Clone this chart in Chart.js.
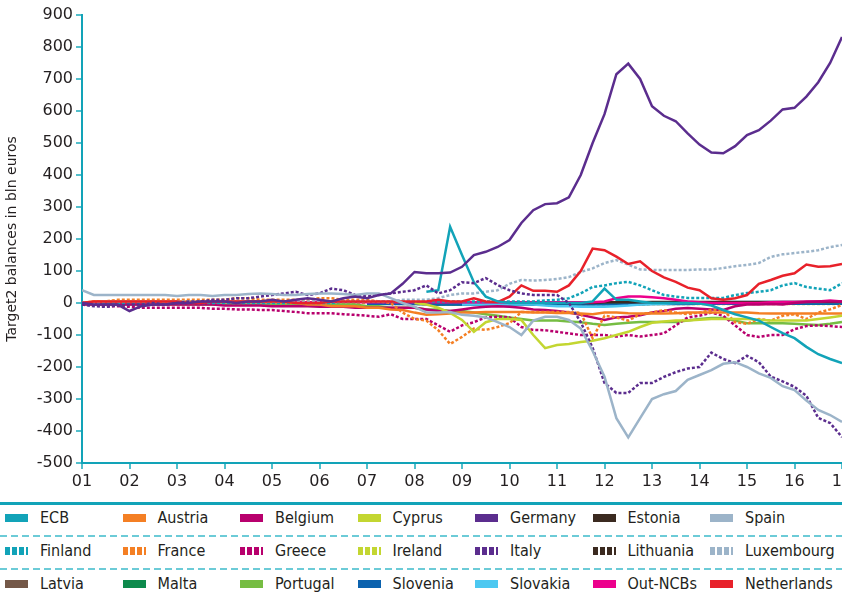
<!DOCTYPE html>
<html lang="en">
<head>
<meta charset="UTF-8">
<title>Target2 balances</title>
<script src="https://cdn.jsdelivr.net/npm/chart.js"></script>
<style>
    body {
        margin: 0;
        background: #ffffff;
        width: 842px;
        height: 598px;
        overflow: hidden;
        position: relative;
    }

    #wrap {
        position: absolute;
        left: 0;
        top: 0;
        width: 852px;
        height: 500px;
    }

    #legend {
        position: absolute;
        left: 0;
        top: 500px;
        width: 842px;
        height: 98px;
        font-family: "DejaVu Sans Condensed", "DejaVu Sans", sans-serif;
        font-size: 16px;
        color: #231f20;
    }

    .solid-rule {
        position: absolute;
        left: 0;
        width: 842px;
        height: 3px;
        background: #12a3b8;
    }

    .dash-rule {
        position: absolute;
        left: 0;
        width: 842px;
        height: 2px;
        background: repeating-linear-gradient(90deg, #6ccbd7 0 7px, transparent 7px 11px);
    }

    .item {
        position: absolute;
        height: 20px;
        line-height: 20px;
        white-space: nowrap;
    }

    .swatch {
        position: absolute;
        left: 0;
        top: 6px;
        width: 23px;
        height: 8px;
    }

    .name {
        position: absolute;
        left: 35px;
        top: 0;
    }
</style>
</head>
<body>
<div id="wrap"><canvas id="chart" width="852" height="500"></canvas></div>
<div id="legend"></div>
<script>
    const yearTicks = ['01', '02', '03', '04', '05', '06', '07', '08', '09', '10', '11', '12', '13', '14', '15', '16', '17'];
    const firstYear = 2001;
    const lastYear = 2017;

    // quarterly values, bln euros, 2001Q1 .. 2017Q1
    const germany = [0, -5, -5, -5, -25, -10, -5, -5, 0, 0, 5, 5, 5, 0, 5, 5, 10, 5, 10, 15, 10, 5, 15, 20, 15, 25, 30, 60,
        97, 93, 93, 95, 113, 150, 160, 175, 197, 250, 290, 309, 312, 330, 400, 500, 590, 715, 748, 700,
        615, 585, 568, 530, 495, 470, 468, 490, 525, 540, 570, 605, 610, 645, 690, 750, 831];
    const spain = [40, 25, 25, 25, 25, 25, 25, 25, 22, 25, 25, 22, 25, 25, 28, 30, 28, 25, 25, 28, 30, 30, 28, 25, 30, 30, 15, 0,
        -12, -30, -30, -28, -37, -40, -45, -60, -75, -100, -55, -43, -43, -53, -80, -150, -230, -360, -420, -360,
        -300, -285, -275, -240, -225, -210, -190, -185, -200, -220, -234, -260, -272, -305, -334, -350, -372];
    const italy = [-5, -10, -12, -8, -5, -5, 0, -5, 0, 5, 5, 10, 10, 15, 15, 20, 25, 30, 35, 25, 30, 45, 40, 25, 20, 25, 30, 35,
        40, 55, 30, 40, 65, 62, 78, 56, 40, 30, 25, 25, 25, 0, -60, -140, -250, -281, -281, -250,
        -250, -231, -216, -205, -200, -155, -175, -188, -165, -185, -230, -245, -262, -290, -359, -375, -419];
    const netherlands = [0, 5, 5, 5, 5, 5, 5, 5, 5, 0, 0, 5, 5, 5, 5, 5, 5, 5, 0, 0, 0, 5, 5, 5, 5, 5, 5, 5,
        5, 5, 10, 5, 5, 15, 5, 3, 20, 55, 38, 38, 35, 55, 100, 170, 165, 145, 122, 130,
        100, 80, 66, 48, 40, 15, 10, 15, 25, 60, 72, 85, 93, 120, 113, 115, 122];
    const luxembourg = [0, 0, 5, 5, 5, 5, 5, 5, 5, 5, 5, 5, 5, 5, 5, 5, 5, 5, 5, 5, 5, 5, 5, 5, 5, 5, 5, 10,
        10, 10, 15, 25, 30, 30, 35, 40, 60, 72, 70, 72, 75, 81, 97, 108, 125, 134, 120, 105,
        103, 103, 103, 103, 105, 105, 109, 115, 119, 125, 144, 152, 156, 160, 165, 175, 181];
    const finland = [0, 0, 0, 0, 0, 0, 0, 0, 0, 0, 0, 0, 0, 0, 0, 0, 0, 0, 0, 0, 0, 0, 5, 5, 5, 5, 5, 5,
        5, 5, 5, 5, 5, 5, 5, 5, 5, 5, 5, 8, 10, 15, 30, 50, 55, 62, 66, 55,
        40, 25, 20, 16, 16, 16, 16, 25, 31, 35, 40, 55, 62, 50, 45, 40, 62];
    const greece = [-5, -5, -10, -10, -12, -15, -15, -15, -15, -15, -15, -18, -18, -20, -20, -22, -22, -25, -28, -32, -32, -32, -35, -37, -40, -43, -35, -50,
        -50, -50, -70, -90, -70, -60, -45, -43, -45, -75, -84, -85, -90, -95, -100, -100, -100, -105, -100, -105,
        -100, -95, -70, -45, -40, -30, -40, -70, -100, -106, -100, -100, -82, -72, -70, -72, -75];
    const belgium = [-5, -5, -5, -5, -5, -5, -5, -5, -5, -5, -5, -5, -8, -8, -8, -8, -10, -10, -10, -10, -12, -12, -12, -15, -15, -15, -15, -15,
        -15, -20, -25, -25, -20, -15, -12, -10, -12, -15, -20, -22, -25, -30, -37, -45, -53, -45, -43, -38,
        -30, -25, -18, -16, -18, -20, -22, -10, -5, -5, -3, -5, 0, 3, 5, 5, 5];
    const france = [0, 5, 5, 10, 10, 10, 10, 10, 10, 10, 10, 10, 10, 15, 15, 10, 10, 10, 10, 10, 15, 15, 10, 10, 10, 5, 0, -30,
        -50, -55, -85, -128, -106, -80, -84, -75, -63, -28, -28, -28, -28, -28, -31, -110, -40, -45, -55, -35,
        -30, -22, -30, -35, -30, -22, -22, -60, -65, -50, -55, -40, -35, -50, -30, -20, -6];
    const austria = [0, 5, 5, 5, 5, 5, 5, 5, 5, 5, 5, 5, 5, 5, 5, 5, 5, 0, 0, -5, -5, -10, -10, -10, -15, -15, -20, -22,
        -30, -37, -35, -33, -30, -30, -28, -28, -28, -28, -30, -30, -31, -31, -33, -35, -30, -30, -32, -33,
        -33, -33, -32, -30, -30, -30, -30, -30, -30, -32, -33, -33, -33, -33, -33, -33, -33];
    const ireland = [0, 0, 0, 0, 0, 0, 0, 0, 0, 0, 0, 0, 0, 0, 0, 0, 0, 0, 0, 0, 0, 0, 0, 0, 0, 0, -2, -3,
        -3, -3, -5, -5, -5, -5, -5, -5, -5, -5, -5, -5, -5, -5, -5, -5, -5, -5, -5, -5,
        -3, -3, -3, -3, -3, -3, -3, -3, -3, -3, -3, -3, -3, -3, -3, -3, -3];
    const portugal = [-5, -5, -5, -5, -5, -5, -5, -5, -5, -5, -5, -5, -5, -5, -5, -5, -5, -5, -5, -5, -5, -5, -5, -5, -10, -10, -15, -15,
        -15, -20, -20, -25, -25, -30, -35, -40, -45, -50, -55, -55, -55, -58, -60, -65, -69, -65, -62, -59,
        -59, -59, -59, -55, -50, -47, -47, -55, -63, -63, -63, -63, -65, -67, -69, -65, -59];
    const outNcbs = [2, 2, 2, 2, 2, 2, 2, 2, 2, 2, 2, 2, 2, 2, 2, 2, 2, 2, 2, 2, 2, 2, 2, 2, 2, 2, 2, 2,
        2, 2, 2, 2, 2, 2, 2, 2, 2, 2, 2, 2, 2, 2, 2, 2, 5, 15, 20, 20,
        18, 15, 10, 5, 2, 0, 0, 0, 0, 0, 2, 3, 3, 5, 5, 8, 5];

    // series that start later (first value is at the given year)
    const ecbStart = 2008.25;
    const ecb = [35, 40, 238, 150, 65, 20, 5, 0, 0, 0, 0, 0, 0, 0, 5, 45, 10, 10, 5, 0, 0, 0, 0, -2,
        -8, -22, -35, -45, -55, -75, -94, -110, -137, -160, -175, -188];
    const cyprusStart = 2008;
    const cyprus = [0, -5, -15, -31, -53, -90, -60, -50, -50, -53, -100, -141, -131, -128, -122, -118,
        -110, -100, -90, -75, -62, -58, -55, -55, -52, -50, -50, -50, -50, -52, -55, -55, -55, -55, -50, -45, -40];
    const estoniaStart = 2011;
    const estonia = [0, 0, 0, 0, 2, 2, 2, 2, 3, 3, 3, 3, 3, 3, 3, 3, 3, 3, 3, 3, 3, 3, 3, 3, 3];
    const latviaStart = 2014;
    const latvia = [0, 0, -2, -2, -2, -2, -2, -2, -2, -2, -2, -2, -2];
    const lithuaniaStart = 2015;
    const lithuania = [0, 0, 2, 2, 2, 2, 2, 2, 2];
    const maltaStart = 2008;
    const malta = [-2, -3, -5, -5, -5, -5, -5, -5, -5, -5, -5, -5, -3, -3, -3, -3, 0, 0, 0, 0,
        0, 0, 0, 0, 0, 0, 0, 0, 0, 0, 0, 0, 0, 0, 0, 0, 0];
    const sloveniaStart = 2007;
    const slovenia = [-2, -2, -3, -3, -3, -4, -5, -5, -5, -5, -5, -5, -5, -5, -5, -5, -5, -5, -5, -5,
        -5, -5, -4, -4, -3, -3, -3, -3, -2, -2, -2, -2, -2, -2, -2, -2, -2, -2, -2, -2, -2];
    const slovakiaStart = 2009;
    const slovakia = [-5, -5, -5, -5, -5, -5, -5, -8, -10, -10, -12, -12, -12, -10, -8, -5,
        -3, -2, 0, 0, 2, 2, 3, 3, 3, 3, 3, 3, 3, 3, 3, 3, 3];

    const quarters = [];
    for (let i = 0; i <= (lastYear - firstYear) * 4; i++) quarters.push(firstYear + i / 4);

    function startAt(year, values) {
        const lead = Math.round((year - firstYear) * 4);
        return Array(lead).fill(null).concat(values);
    }

    const lines = {
        'Germany': { values: germany, color: '#5b2d8e', dotted: false },
        'Spain': { values: spain, color: '#9cb4c9', dotted: false },
        'Italy': { values: italy, color: '#5b2d8e', dotted: true },
        'ECB': { values: startAt(ecbStart, ecb), color: '#12a3b8', dotted: false },
        'Netherlands': { values: netherlands, color: '#e8212a', dotted: false },
        'Luxembourg': { values: luxembourg, color: '#9cb4c9', dotted: true },
        'Finland': { values: finland, color: '#12a3b8', dotted: true },
        'Cyprus': { values: startAt(cyprusStart, cyprus), color: '#c3d631', dotted: false },
        'France': { values: france, color: '#f47f24', dotted: true },
        'Austria': { values: austria, color: '#f47f24', dotted: false },
        'Greece': { values: greece, color: '#b8006d', dotted: true },
        'Belgium': { values: belgium, color: '#b8006d', dotted: false },
        'Portugal': { values: portugal, color: '#76bd43', dotted: false },
        'Out-NCBs': { values: outNcbs, color: '#ec008c', dotted: false },
        'Estonia': { values: startAt(estoniaStart, estonia), color: '#3b2a20', dotted: false },
        'Slovakia': { values: startAt(slovakiaStart, slovakia), color: '#4cc8f1', dotted: false },
        'Slovenia': { values: startAt(sloveniaStart, slovenia), color: '#0b62ae', dotted: false },
        'Malta': { values: startAt(maltaStart, malta), color: '#0d8a4c', dotted: false },
        'Latvia': { values: startAt(latviaStart, latvia), color: '#745848', dotted: false },
        'Lithuania': { values: startAt(lithuaniaStart, lithuania), color: '#3b2a20', dotted: true },
        'Ireland': { values: ireland, color: '#c3d631', dotted: true }
    };

    const legendRows = [
        ['ECB', 'Austria', 'Belgium', 'Cyprus', 'Germany', 'Estonia', 'Spain'],
        ['Finland', 'France', 'Greece', 'Ireland', 'Italy', 'Lithuania', 'Luxembourg'],
        ['Latvia', 'Malta', 'Portugal', 'Slovenia', 'Slovakia', 'Out-NCBs', 'Netherlands']
    ];

    const axisColor = '#12a3b8';
    const tickFont = { family: 'DejaVu Sans', size: 16 };

    const datasets = Object.keys(lines).map(name => {
        const s = lines[name];
        return {
            label: name,
            data: quarters.map((t, i) => ({ x: t, y: s.values[i] === undefined ? null : s.values[i] })),
            borderColor: s.color,
            backgroundColor: s.color,
            borderWidth: 2.5,
            borderDash: s.dotted ? [3, 2] : [],
            pointRadius: 0,
            tension: 0,
            fill: false,
            spanGaps: false
        };
    });

    new Chart(document.getElementById('chart'), {
        type: 'line',
        data: { datasets },
        options: {
            responsive: false,
            animation: false,
            layout: { padding: { top: 15, right: 10, bottom: 0, left: 0 } },
            plugins: { legend: { display: false }, tooltip: { enabled: false } },
            scales: {
                x: {
                    type: 'linear',
                    min: firstYear,
                    max: lastYear,
                    border: { color: axisColor, width: 2 },
                    grid: { drawOnChartArea: false, drawTicks: true, tickLength: 6, color: '#53bfcc', lineWidth: 2 },
                    ticks: {
                        stepSize: 1,
                        autoSkip: false,
                        maxRotation: 0,
                        padding: 3,
                        color: '#231f20',
                        font: tickFont,
                        callback: v => yearTicks[v - firstYear]
                    },
                    afterFit: s => { s.height = 37; s.paddingLeft = 0; s.paddingRight = 0; }
                },
                y: {
                    min: -500,
                    max: 900,
                    border: { color: axisColor, width: 2 },
                    grid: { drawOnChartArea: false, drawTicks: true, tickLength: 6, color: '#53bfcc', lineWidth: 2 },
                    ticks: {
                        stepSize: 100,
                        padding: 3,
                        color: '#231f20',
                        font: tickFont
                    },
                    title: {
                        display: true,
                        text: 'Target2 balances in bln euros',
                        color: '#231f20',
                        font: { family: 'DejaVu Sans', size: 14 },
                        padding: { top: 4, bottom: 0 }
                    },
                    afterFit: s => { s.width = 82; s.paddingTop = 0; s.paddingBottom = 0; }
                }
            }
        }
    });

    // legend below the chart
    const legendBox = document.getElementById('legend');
    const topRule = document.createElement('div');
    topRule.className = 'solid-rule';
    topRule.style.top = '2px';
    legendBox.appendChild(topRule);
    [35, 68].forEach(y => {
        const d = document.createElement('div');
        d.className = 'dash-rule';
        d.style.top = y + 'px';
        legendBox.appendChild(d);
    });
    legendRows.forEach((row, r) => {
        row.forEach((name, c) => {
            const s = lines[name];
            const item = document.createElement('div');
            item.className = 'item';
            item.style.left = (5 + c * 117.5) + 'px';
            item.style.top = (8 + r * 33) + 'px';
            const sw = document.createElement('div');
            sw.className = 'swatch';
            sw.style.background = s.dotted
                ? `repeating-linear-gradient(90deg, ${s.color} 0 5px, transparent 5px 7px)`
                : s.color;
            const label = document.createElement('span');
            label.className = 'name';
            label.textContent = name;
            item.appendChild(sw);
            item.appendChild(label);
            legendBox.appendChild(item);
        });
    });
</script>
</body>
</html>
